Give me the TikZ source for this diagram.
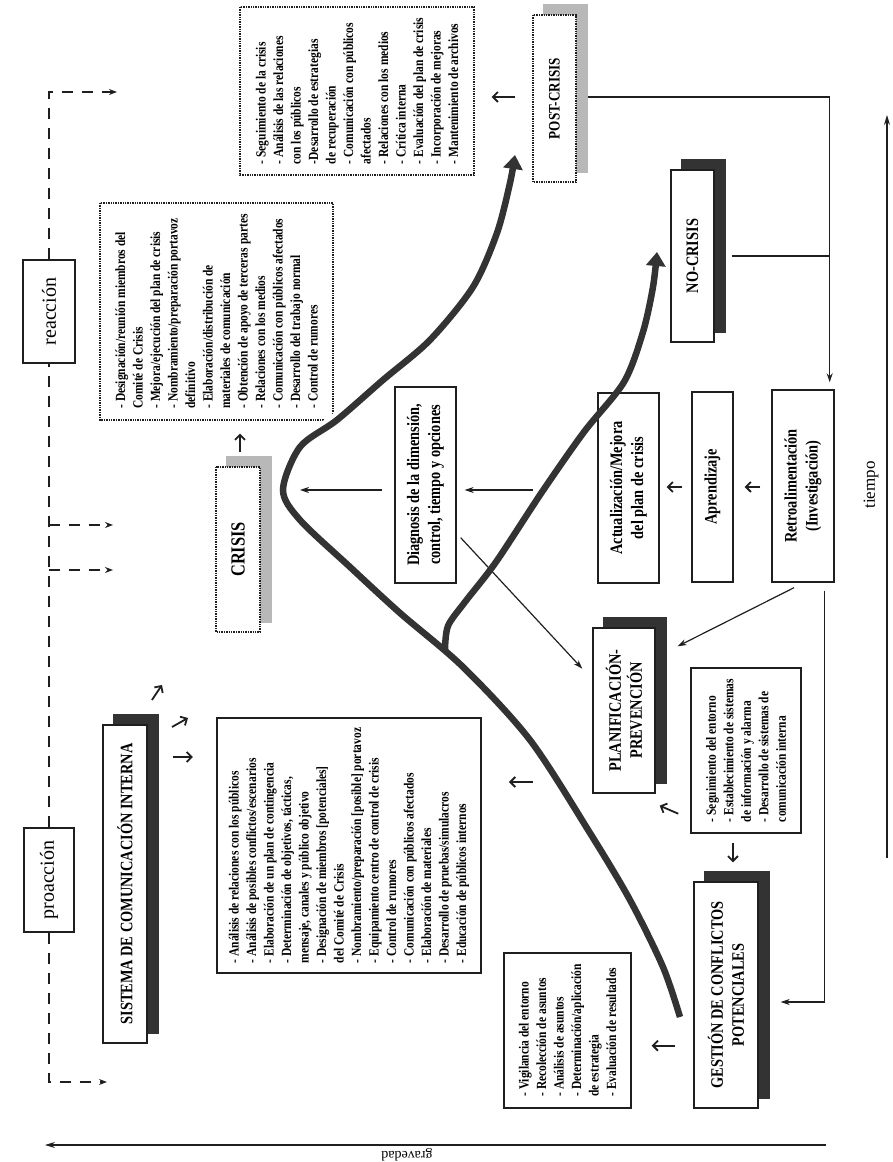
\documentclass[tikz,border=0pt]{standalone}
\usepackage{fontspec}
\setmainfont{Liberation Serif}
\newfontfamily\narrowserif{Liberation Serif}[FakeStretch=0.82]
\usetikzlibrary{arrows.meta,calc,backgrounds}

\definecolor{ink}{gray}{0.12}
\definecolor{shadowink}{gray}{0.2}
\definecolor{dither}{gray}{0.72}

\newcommand\listfont{\narrowserif\bfseries\fontsize{14}{17.5}\selectfont}
\newcommand\headfont{\narrowserif\bfseries\fontsize{17.5}{21}\selectfont}
\newcommand\castshadow[2]{\fill [#2] ($(#1.south west)+(10,-11)$) rectangle ($(#1.north east)+(10,-11)$);}

\tikzset{
    box/.style={draw=ink, line width=1.4pt, fill=white, inner sep=4pt},
    headbox/.style={box, align=center, font=\headfont},
    listbox/.style={box, align=left, font=\listfont},
    tagbox/.style={box, font=\fontsize{20}{24}\selectfont},
    dotframe/.style={densely dotted},
    link/.style={draw=ink, line width=1.2pt, -{Stealth[length=9pt,width=6pt]}},
    tick/.style={draw=ink, line width=1.8pt, -{Straight Barb[length=5pt,width=10pt]}},
    hint/.style={draw=ink, line width=1.4pt, dash pattern=on 11pt off 9pt, -{Stealth[length=8pt,width=6pt]}},
    axis/.style={draw=ink, line width=1.3pt, -{Stealth[length=10pt,width=6pt]}},
    trend/.style={draw=shadowink, line width=6.5pt, -{Triangle[length=14pt,width=19pt]}},
}

\begin{document}
\begin{tikzpicture}[x=1pt, y=1pt, rotate=90, transform shape]
    \useasboundingbox (0,0) rectangle (1162,892);

    \node [tagbox, minimum width=103pt, minimum height=52pt] (reac) at (850.5,843) {reacción};
    \node [tagbox, minimum width=104pt, minimum height=50pt] (proac) at (282,843) {proacción};

    \node [headbox, minimum width=318pt, minimum height=44pt] (sistema) at (278,767) {SISTEMA DE COMUNICACIÓN INTERNA};
    \node [listbox, minimum width=255pt, minimum height=264pt] (sislist) at (316.5,543) {%
        - Análisis de relaciones con los públicos\\
        - Análisis de posibles conflictos/escenarios\\
        - Elaboración de un plan de contingencia\\
        - Determinación de objetivos, tácticas,\\
        mensaje, canales y público objetivo\\
        - Designación de miembros [potenciales]\\
        del Comité de Crisis\\
        - Nombramiento/preparación [posible] portavoz\\
        - Equipamiento centro de control de crisis\\
        - Control de rumores\\
        - Comunicación con públicos afectados\\
        - Elaboración de materiales\\
        - Desarrollo de pruebas/simulacros\\
        - Educación de públicos internos};

    \node [headbox, minimum width=226pt, minimum height=64pt] (gestion) at (167,166) {GESTIÓN DE CONFLICTOS\\POTENCIALES};
    \node [listbox, minimum width=155pt, minimum height=127pt] (gestlist) at (131.5,324.5) {%
        - Vigilancia del entorno\\
        - Recolección de asuntos\\
        - Análisis de asuntos\\
        - Determinación/aplicación\\
        de estrategia\\
        - Evaluación de resultados};

    \node [headbox, minimum width=165pt, minimum height=62pt] (plan) at (451.5,268) {PLANIFICACIÓN-\\PREVENCIÓN};
    \node [listbox, minimum width=165pt, minimum height=110pt] (planlist) at (411.5,146) {%
        - Seguimiento del entorno\\
        - Establecimiento de sistemas\\
        de información y alarma\\
        - Desarrollo de sistemas de\\
        comunicación interna};

    \node [headbox, minimum width=196pt, minimum height=61pt] (diag) at (677,466.5) {Diagnosis de la dimensión,\\control, tiempo y opciones};
    \node [headbox, minimum width=190pt, minimum height=61pt] (actual) at (674,263.5) {Actualización/Mejora\\del plan de crisis};
    \node [headbox, minimum width=190pt, minimum height=41pt] (apren) at (675,179.5) {Aprendizaje};
    \node [headbox, minimum width=192pt, minimum height=62pt] (retro) at (676,89) {Retroalimentación\\(Investigación)};
    \node [headbox, minimum width=172pt, minimum height=43pt] (nocrisis) at (906,199.5) {NO-CRISIS};

    \node [headbox, dotframe, font=\narrowserif\bfseries\fontsize{16}{19}\selectfont, minimum width=167pt, minimum height=43pt] (postcrisis) at (1063.5,337.5) {POST-CRISIS};
    \node [listbox, dotframe, minimum width=168pt, minimum height=234pt] (postlist) at (1071,535) {%
        - Seguimiento de la crisis\\
        - Análisis de las relaciones\\
        con los públicos\\
        -Desarrollo de estrategias\\
        de recuperación\\
        - Comunicación con públicos\\
        afectados\\
        - Relaciones con los medios\\
        - Crítica interna\\
        - Evaluación del plan de crisis\\
        - Incorporación de mejoras\\
        - Mantenimiento de archivos};

    \node [headbox, dotframe, font=\narrowserif\bfseries\fontsize{20}{24}\selectfont, minimum width=165pt, minimum height=44pt] (crisis) at (612.5,654) {CRISIS};
    \node [listbox, dotframe, minimum width=217pt, minimum height=233pt] (crislist) at (850.5,675.5) {%
        - Designación/reunión miembros del\\
        Comité de Crisis\\
        - Mejora/ejecución del plan de crisis\\
        - Nombramiento/preparación portavoz\\
        definitivo\\
        - Elaboración/distribución de\\
        materiales de comunicación\\
        - Obtención de apoyo de terceras partes\\
        - Relaciones con los medios\\
        - Comunicación con públicos afectados\\
        - Desarrollo del trabajo normal\\
        - Control de rumores};

    \begin{scope}[on background layer]
        \castshadow{sistema}{shadowink}
        \castshadow{gestion}{shadowink}
        \castshadow{plan}{shadowink}
        \castshadow{nocrisis}{shadowink}
        \castshadow{crisis}{dither}
        \castshadow{postcrisis}{dither}
    \end{scope}

    \node [font=\fontsize{17}{20}\selectfont] (tiempo) at (677,21) {tiempo};
    \node [rotate=90, font=\fontsize{14}{16}\selectfont] (gravedad) at (7,485) {gravedad};
    \coordinate (g0) at (17,66);
    \coordinate (g1) at (17,847);
    \coordinate (t0) at (304,5);
    \coordinate (t1) at (1047,5);
    \draw [axis] (g0) -- (g1);
    \draw [axis] (t0) -- (t1);

    \coordinate (pl) at (80,843);
    \coordinate (pr) at (1070,843);
    \coordinate (h1) at (592,843);
    \coordinate (h2) at (637,843);
    \draw [hint] (proac.west) -- (pl) -- ++(0,-58);
    \draw [hint, -] (proac.east) -- (reac.west);
    \draw [hint] (reac.east) -- (pr) -- ++(0,-68);
    \draw [hint] (h1) -- ++(0,-64);
    \draw [hint] (h2) -- ++(0,-64);

    \coordinate (s1) at (462,740);
    \coordinate (s2) at (435,720);
    \coordinate (s3) at (405,719);
    \coordinate (up) at (380,359);
    \draw [tick] (s1) -- ++(15,-10);
    \draw [tick] (s2) -- ++(9,-16);
    \draw [tick] (s3) -- ++(0,-20);
    \draw [tick] (up) -- ++(0,24);
    \draw [tick] ($(gestion.north west)+(63,18)$) -- ($(gestlist.south west)+(63,-20)$);
    \draw [tick] ($(planlist.north west)+(20,12)$) -- ($(plan.south west)+(-12,-4)$);
    \draw [tick] ($(planlist.west)+(-9,13)$) -- ($(gestion.east)+(19,-7)$);
    \draw [tick] ($(crisis.east)+(14,-2)$) -- ($(crislist.west)+(-13,-23.5)$);
    \draw [tick] ($(postcrisis.north)+(1.5,17)$) -- ($(postlist.south)+(-6,-17)$);
    \draw [tick] ($(apren.north)+(0,9)$) -- ($(actual.south)+(1,-7)$);
    \draw [tick] ($(retro.north)+(-1,11)$) -- ($(apren.south)+(0,-11)$);

    \coordinate (peak) at (672,609);
    \draw [link] ($(diag.north)+(-5,12)$) -- ($(peak)+(0,-17)$);
    \draw [link, {Stealth[length=9pt,width=6pt]}-] ($(diag.south)+(-5,-8)$) -- ($(actual.north)+(-2,64)$);
    \draw [link] ($(diag.south west)+(46,-4)$) -- ($(plan.north west)+(125,10)$);
    \draw [link] ($(retro.west)+(-5,9)$) -- ($(plan.south east)+(-19,-22)$);
    \coordinate (fbin) at ($(retro.south east)+(7,5)$);
    \draw [link] ($(postcrisis.south)+(1.5,-11)$) |- (fbin);
    \draw [link, -] ($(nocrisis.south)+(0,-17)$) -- (nocrisis.south |- fbin);
    \draw [link] ($(retro.south west)+(-8,10)$) -| ($(gestion.south)+(-7,-22)$);

    \draw [white, line width=15pt] plot [smooth] coordinates {(145,212) (195,229) (262,262) (329,302) (422,362) (495,429) (549,492) (595,542) (642,592) (672,609) (715,592) (742,555) (782,509) (822,462) (875,419) (929,395) (979,382) (1007,377)};
    \draw [trend] plot [smooth] coordinates {(145,212) (195,229) (262,262) (329,302) (422,362) (495,429) (549,492) (595,542) (642,592) (672,609) (715,592) (742,555) (782,509) (822,462) (875,419) (929,395) (979,382) (1007,377)};
    \draw [trend] plot [smooth] coordinates {(512,447) (536,444) (560,427) (600,396) (670,350) (730,308) (780,268) (830,249) (875,239) (910,235)};
\end{tikzpicture}
\end{document}
